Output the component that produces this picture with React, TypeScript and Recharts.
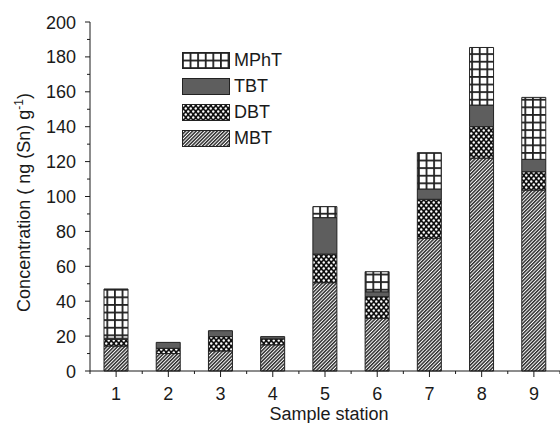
import React from 'react';
import { BarChart, Bar, XAxis, YAxis, Legend, Label } from 'recharts';

// ---- data ----
const stations = ['1', '2', '3', '4', '5', '6', '7', '8', '9'];
const mbt = [14.3, 10, 11.5, 15, 50.6, 30.2, 76, 122, 103.7];
const dbt = [3.9, 3, 8.2, 3.4, 16.4, 12.4, 22.4, 18, 10.5];
const tbt = [0.6, 3.4, 3.4, 1.3, 20.9, 2.8, 5.9, 12.4, 7.1];
const mpht = [28.2, 0, 0, 0, 6.3, 11.5, 20.8, 33, 35.5];
const yTicks = [0, 10, 20, 30, 40, 50, 60, 70, 80, 90, 100, 110, 120, 130, 140, 150, 160, 170, 180, 190, 200];
const seriesNames = ['MBT', 'DBT', 'TBT', 'MPhT'];

const data = stations.map((s, i) => ({
  station: s,
  MBT: mbt[i],
  DBT: dbt[i],
  TBT: tbt[i],
  MPhT: mpht[i],
}));

// ---- layout ----
const CHART_W = 560;
const CHART_H = 423;
const MARGIN = { top: 22, right: 0, bottom: 0, left: 0 };
const YAXIS_W = 90;
const XAXIS_H = 52;
const PLOT_W = CHART_W - MARGIN.left - MARGIN.right - YAXIS_W;
const HALF_BAND = PLOT_W / stations.length / 2;
const FONT = 'Arial, "Liberation Sans", Helvetica, sans-serif';
const INK = '#1a1a1a';

const fills: Record<string, string> = {
  MBT: 'url(#patMBT)',
  DBT: 'url(#patDBT)',
  TBT: '#5e5e5e',
  MPhT: 'url(#patMPhT)',
};

const Patterns = () => (
  <svg width={0} height={0} style={{ position: 'absolute' }}>
    <defs>
      <pattern id="patMBT" patternUnits="userSpaceOnUse" width={2.5} height={2.5} patternTransform="rotate(45)">
        <rect x={0} y={0} width={2.5} height={2.5} fill="#ffffff" />
        <rect x={0} y={0} width={1.5} height={2.5} fill="#2e2e2e" />
      </pattern>
      <pattern id="patDBT" patternUnits="userSpaceOnUse" width={5} height={6}>
        <rect x={0} y={0} width={5} height={6} fill="#111111" />
        <circle cx={1.25} cy={1.5} r={1.2} fill="#ffffff" />
        <circle cx={3.75} cy={4.5} r={1.2} fill="#ffffff" />
      </pattern>
      <pattern id="patMPhT" patternUnits="userSpaceOnUse" width={7.6} height={7.6}>
        <rect x={0} y={0} width={7.6} height={7.6} fill="#ffffff" />
        <rect x={0} y={0} width={1.8} height={7.6} fill="#222222" />
        <rect x={0} y={0} width={7.6} height={1.8} fill="#222222" />
      </pattern>
    </defs>
  </svg>
);

const YTick = (props: any) => {
  const { x, y, payload } = props;
  const major = payload.value % 20 === 0;
  return (
    <g>
      <line x1={x - (major ? 5 : 3)} x2={x} y1={y} y2={y} stroke={INK} strokeWidth={1} />
      {major && (
        <text x={x - 14} y={y} dy={6.5} textAnchor="end" fontSize={18} fontFamily={FONT} fill={INK}>
          {payload.value}
        </text>
      )}
    </g>
  );
};

const XTick = (props: any) => {
  const { x, y, payload, index } = props;
  const last = index === stations.length - 1;
  return (
    <g>
      <line x1={x} x2={x} y1={y} y2={y + 6} stroke={INK} strokeWidth={1} />
      <line x1={x - HALF_BAND} x2={x - HALF_BAND} y1={y} y2={y + 3} stroke={INK} strokeWidth={1} />
      {last && <line x1={x + HALF_BAND} x2={x + HALF_BAND} y1={y} y2={y + 3} stroke={INK} strokeWidth={1} />}
      <text x={x} y={y + 29} textAnchor="middle" fontSize={18} fontFamily={FONT} fill={INK}>
        {payload.value}
      </text>
    </g>
  );
};

const YLabel = (props: any) => {
  const vb = props.viewBox || { x: 0, y: MARGIN.top, width: YAXIS_W, height: CHART_H - XAXIS_H - MARGIN.top };
  const cx = vb.x + 30;
  const cy = vb.y + vb.height / 2 + 6;
  return (
    <text x={cx} y={cy} transform={`rotate(-90, ${cx}, ${cy})`} textAnchor="middle" fontSize={18} fontFamily={FONT} fill={INK}>
      Concentration ( ng (Sn) g<tspan dy={-7} fontSize={12}>-1</tspan>
      <tspan dy={7}>)</tspan>
    </text>
  );
};

const XLabel = (props: any) => {
  const vb = props.viewBox || { x: YAXIS_W, y: CHART_H - XAXIS_H, width: PLOT_W, height: XAXIS_H };
  return (
    <text x={vb.x + vb.width / 2 + 4} y={vb.y + 49} textAnchor="middle" fontSize={18} fontFamily={FONT} fill={INK}>
      Sample station
    </text>
  );
};

const LegendBox = () => {
  const order = [...seriesNames].reverse();
  return (
    <div style={{ position: 'relative', width: 120, height: 110 }}>
      {order.map((name, i) => (
        <div
          key={name}
          style={{ position: 'absolute', left: 0, top: i * 26, height: 17, display: 'flex', alignItems: 'center' }}
        >
          <svg width={48} height={17} style={{ display: 'block' }}>
            <rect x={0.5} y={0.5} width={47} height={16} fill={fills[name]} stroke="#222" strokeWidth={1} />
          </svg>
          <span style={{ marginLeft: 4, fontSize: 18, fontFamily: FONT, color: INK, lineHeight: '17px' }}>{name}</span>
        </div>
      ))}
    </div>
  );
};

export default function App() {
  return (
    <div style={{ position: 'absolute', left: 0, top: 0, width: CHART_W, height: CHART_H, background: '#fff' }}>
      <Patterns />
      <BarChart width={CHART_W} height={CHART_H} data={data} margin={MARGIN} barSize={24}>
        <XAxis
          dataKey="station"
          height={XAXIS_H}
          tickSize={0}
          tickMargin={0}
          tick={<XTick />}
          interval={0}
          axisLine={{ stroke: INK, strokeWidth: 1 }}
          tickLine={false}
        >
          <Label content={<XLabel />} />
        </XAxis>
        <YAxis
          width={YAXIS_W}
          domain={[0, 200]}
          ticks={yTicks}
          interval={0}
          tickSize={0}
          tickMargin={0}
          tick={<YTick />}
          axisLine={{ stroke: INK, strokeWidth: 1 }}
          tickLine={false}
        >
          <Label content={<YLabel />} />
        </YAxis>
        <Legend
          layout="vertical"
          align="center"
          verticalAlign="middle"
          wrapperStyle={{ left: 182, top: 52 }}
          content={<LegendBox />}
        />
        {seriesNames.map((name) => (
          <Bar
            key={name}
            dataKey={name}
            stackId="a"
            fill={fills[name]}
            stroke="#222"
            strokeWidth={1}
            isAnimationActive={false}
          />
        ))}
      </BarChart>
    </div>
  );
}
